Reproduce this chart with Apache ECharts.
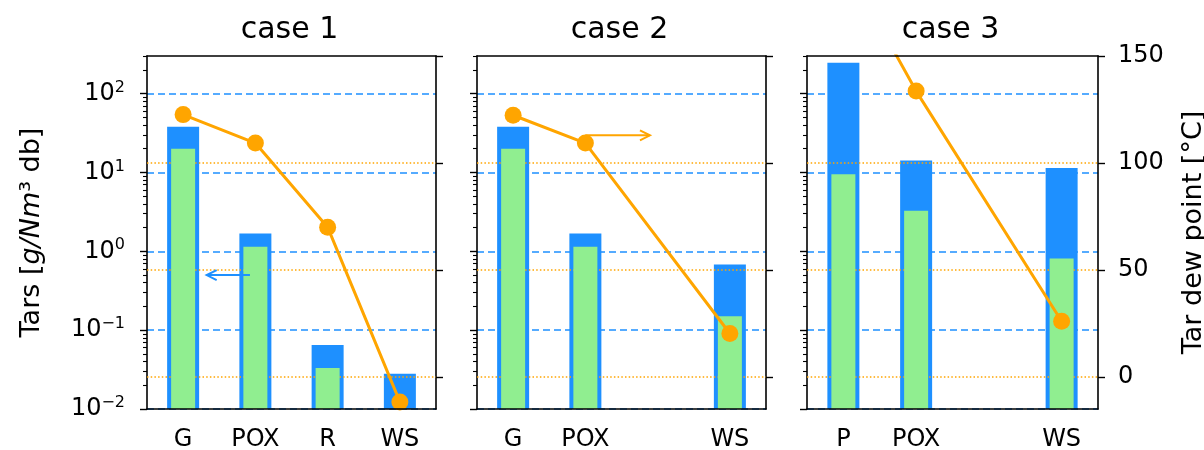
<!DOCTYPE html>
<html><head><meta charset="utf-8">
<script src="https://cdn.jsdelivr.net/npm/echarts@6/dist/echarts.min.js"></script>
<style>html,body{margin:0;padding:0;background:#fff}#c{width:1204px;height:450px}</style>
</head><body><div id="c"></div>
<script>
// ---- data ----
const titles = ['case 1', 'case 2', 'case 3'];
const case1Cats = ['G', 'POX', 'R', 'WS'];
const case1Total = [38, 1.68, 0.065, 0.028];
const case1Part = [20, 1.14, 0.033, null];
const case1Dew = [122.6, 109.3, 70.0, -11.7];

const case2Cats = ['G', 'POX', '', 'WS'];
const case2Total = [38, 1.68, null, 0.68];
const case2Part = [20, 1.14, null, 0.15];
const case2Dew = [122.3, 109.3, null, 20.3];

const case3Cats = ['P', 'POX', '', 'WS'];
const case3Total = [247, 14.2, null, 11.4];
const case3Part = [9.5, 3.27, null, 0.81];
const case3Dew = [195, 133.6, null, 26.0];

const leftMajorTicks = [0.01, 0.1, 1, 10, 100];
const leftMinorTicks = [0.02,0.03,0.04,0.05,0.06,0.07,0.08,0.09,
  0.2,0.3,0.4,0.5,0.6,0.7,0.8,0.9, 2,3,4,5,6,7,8,9,
  20,30,40,50,60,70,80,90, 200,300];
const rightTicks = [0, 50, 100, 150];
const rightGridLines = [0, 50, 100];
const leftRange = [0.01, 300];
const rightRange = [-15, 150];
// annotation arrows: [panel, axis ('left'|'right'), x from, x to, y]
const arrowLeft = [0, 'left', 0.925, 0.326, 0.5];
const arrowRight = [1, 'right', 1.0, 1.894, 112.9];

// ---- style ----
const FONT = 'DejaVu Sans';
const BLUE = '#1E90FF', GREEN = '#90EE90', ORANGE = '#FFA500';
const gridLefts = [147, 477, 807];
const gridWidths = [289, 289, 291];
const gridTop = 56, gridHeight = 353;

const cats = [case1Cats, case2Cats, case3Cats];
const totals = [case1Total, case2Total, case3Total];
const parts = [case1Part, case2Part, case3Part];
const dews = [case1Dew, case2Dew, case3Dew];

function logLabel(v) {
  const e = Math.round(Math.log10(v));
  return '{b|10}{s|' + String(e).replace('-', '\u2212') + '}';
}

const axisLineStyle = {color: '#000', width: 1.6};
const tickStyle = {color: '#000', width: 1.4};

const grid = [], xAxis = [], yAxis = [], series = [], title = [];
for (let i = 0; i < 3; i++) {
  grid.push({left: gridLefts[i], width: gridWidths[i], top: gridTop, height: gridHeight,
    containLabel: false, outerBoundsMode: 'none'});
  title.push({text: titles[i], left: gridLefts[i] + gridWidths[i] / 2 - 7, top: 10, textAlign: 'center',
    textStyle: {fontFamily: FONT, fontSize: 30, fontWeight: 'normal', color: '#000'}});
}
for (let i = 0; i < 3; i++) {
  xAxis.push({type: 'category', gridIndex: i, data: cats[i], position: 'bottom', boundaryGap: true, z: 5,
    axisLine: {onZero: false, lineStyle: axisLineStyle},
    axisTick: {alignWithLabel: true, length: 7, lineStyle: tickStyle, interval: (idx, val) => val !== ''},
    axisLabel: {interval: 0, color: '#000', fontFamily: FONT, fontSize: 24, margin: 19},
    splitLine: {show: false}});
}
for (let i = 0; i < 3; i++) {
  xAxis.push({type: 'category', gridIndex: i, data: cats[i], position: 'top', boundaryGap: true, z: 5,
    axisLine: {show: true, onZero: false, lineStyle: axisLineStyle},
    axisTick: {show: false}, axisLabel: {show: false}, splitLine: {show: false}});
}
for (let i = 0; i < 3; i++) {
  // main log axis (left)
  yAxis.push({type: 'log', logBase: 10, gridIndex: i, min: leftRange[0], max: leftRange[1], startValue: leftRange[0],
    position: 'left',
    axisLine: {show: true, onZero: false, lineStyle: axisLineStyle},
    axisTick: {show: true, customValues: leftMajorTicks, length: 7, lineStyle: tickStyle},
    axisLabel: {show: i === 0, customValues: leftMajorTicks, formatter: logLabel, color: '#000',
      fontFamily: FONT, margin: 22,
      rich: {b: {fontFamily: FONT, fontSize: 24, color: '#000', lineHeight: 28},
             s: {fontFamily: FONT, fontSize: 16, color: '#000', lineHeight: 16, verticalAlign: 'top'}}},
    splitLine: {show: true, lineStyle: {color: BLUE, type: [7, 4], width: 1.5}},
    name: i === 0 ? 'Tars [{i|g/Nm}\u00B3 db]' : '', nameLocation: 'middle', nameGap: 102,
    nameTextStyle: {fontFamily: FONT, fontSize: 27, color: '#000',
      rich: {i: {fontStyle: 'italic', fontFamily: FONT, fontSize: 27, color: '#000'}}}});
  // right value axis (dew point)
  yAxis.push({type: 'value', gridIndex: i, min: rightRange[0], max: rightRange[1], position: 'right',
    axisLine: {show: true, onZero: false, lineStyle: axisLineStyle},
    axisTick: {show: true, customValues: rightTicks, length: 7, lineStyle: tickStyle},
    axisLabel: {show: i === 2, customValues: rightTicks, color: '#000', fontFamily: FONT, fontSize: 24, margin: 20},
    splitLine: {show: false},
    name: i === 2 ? 'Tar dew point [°C]' : '', nameLocation: 'middle', nameGap: 82,
    nameTextStyle: {fontFamily: FONT, fontSize: 27, color: '#000'}});
  // minor ticks axis
  yAxis.push({type: 'log', logBase: 10, gridIndex: i, min: leftRange[0], max: leftRange[1], position: 'left',
    axisLine: {show: false, onZero: false},
    axisTick: {show: true, customValues: leftMinorTicks, length: 4, lineStyle: {color: '#000', width: 1.1}},
    axisLabel: {show: false}, splitLine: {show: false}});
}
for (let i = 0; i < 3; i++) {
  series.push({type: 'bar', xAxisIndex: i, yAxisIndex: 3 * i, data: totals[i], barWidth: 32,
    itemStyle: {color: BLUE}, z: 2});
  series.push({type: 'bar', xAxisIndex: 3 + i, yAxisIndex: 3 * i, data: parts[i], barWidth: 24,
    itemStyle: {color: GREEN}, z: 3});
  series.push({type: 'line', xAxisIndex: i, yAxisIndex: 3 * i + 1, data: dews[i], connectNulls: true,
    symbol: 'circle', symbolSize: 17, itemStyle: {color: ORANGE}, lineStyle: {color: ORANGE, width: 3},
    z: 4, clip: true,
    markLine: {silent: true, symbol: 'none', label: {show: false}, z: 3,
      lineStyle: {color: ORANGE, type: [1.5, 2.2], width: 1.5},
      data: rightGridLines.map(v => ({yAxis: v}))}});
}

const chart = echarts.init(document.getElementById('c'), null, {renderer: 'canvas'});
chart.setOption({animation: false, backgroundColor: '#fff', title, grid, xAxis, yAxis, series});

function arrowGraphic(a, color) {
  const [panel, side, xf, xt, yv] = a;
  const c = cats[panel];
  const p0 = chart.convertToPixel({xAxisIndex: panel}, c[0]);
  const p1 = chart.convertToPixel({xAxisIndex: panel}, c[1]);
  const yIdx = side === 'left' ? 3 * panel : 3 * panel + 1;
  const y = chart.convertToPixel({yAxisIndex: yIdx}, yv);
  const xa = p0 + (p1 - p0) * xf, xb = p0 + (p1 - p0) * xt;
  const dir = Math.sign(xb - xa);
  const hl = 10, hw = 5;
  return [
    {type: 'polyline', z: 10, shape: {points: [[xa, y], [xb, y]]}, style: {stroke: color, lineWidth: 2, fill: null}},
    {type: 'polyline', z: 10, shape: {points: [[xb - dir * hl, y - hw], [xb, y], [xb - dir * hl, y + hw]]},
      style: {stroke: color, lineWidth: 2, fill: null}}
  ];
}
chart.setOption({graphic: [...arrowGraphic(arrowLeft, BLUE), ...arrowGraphic(arrowRight, ORANGE)]});
</script></body></html>
